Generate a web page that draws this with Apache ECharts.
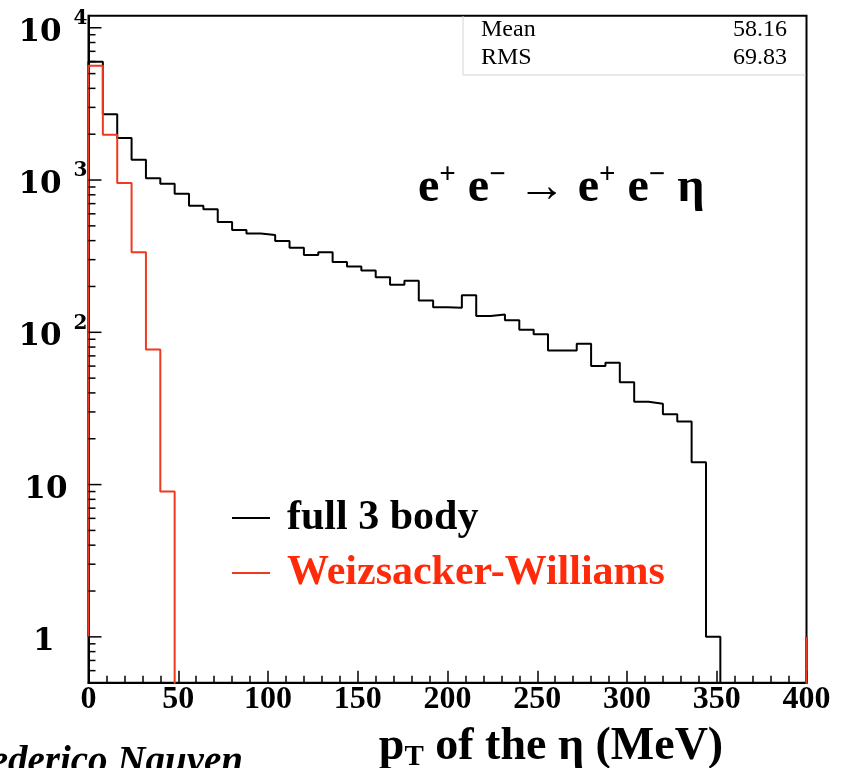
<!DOCTYPE html>
<html>
<head>
<meta charset="utf-8">
<script src="https://cdn.jsdelivr.net/npm/echarts@6/dist/echarts.min.js"></script>
<style>
html,body{margin:0;padding:0;background:#fff;}
#chart{width:848px;height:768px;}
</style>
</head>
<body>
<div id="chart"></div>
<script>
// ---------------- data ----------------
const xMin = 0, xMax = 400, binWidth = 8;
const yMin = 0.5, yMax = 12000;
const xTickStep = 50;
const seriesNames = ['full 3 body', 'Weizsacker-Williams'];
// counts per 8 MeV bin, 0..400 MeV (50 bins)
const fullBody = [5980, 2700, 1890, 1360, 1026, 946, 813, 678, 642, 530,
                  470, 445, 435, 398, 359, 322, 335, 290, 270, 255,
                  230, 205, 218, 162, 146, 145, 175, 128, 131, 120,
                  104, 97, 76, 76, 84, 60, 63, 47, 35, 34,
                  29, 26, 14, 1, 0, 0, 0, 0, 0, 0];
const weizsacker = [5630, 1980, 955, 335, 77, 9, 0, 0, 0, 0,
                    0, 0, 0, 0, 0, 0, 0, 0, 0, 0,
                    0, 0, 0, 0, 0, 0, 0, 0, 0, 0,
                    0, 0, 0, 0, 0, 0, 0, 0, 0, 0,
                    0, 0, 0, 0, 0, 0, 0, 0, 0, 0];
const yDecades = [1, 10, 100, 1000, 10000];
const statsNames = ['Mean', 'RMS'];
const statsValues = ['58.16', '69.83'];
const processText = ['e', '+', 'e', '−', 'e', '+', 'e', '−', 'η'];

// ---------------- helpers ----------------
const HIST_BASE = 1;          // ROOT log-scale histogram base
const OFF_SCALE = yMin / 10;  // empty bins fall below the frame
function histPath(vals) {
  const pts = [[xMin, HIST_BASE]];
  vals.forEach((v, i) => {
    const y = v > 0 ? v : OFF_SCALE;
    pts.push([xMin + i * binWidth, y], [xMin + (i + 1) * binWidth, y]);
  });
  pts.push([xMax, HIST_BASE]);
  return pts;
}
const yTickData = [];
for (let k = -1; k <= 4; k++) {
  for (let m = 1; m <= 9; m++) {
    const v = m * Math.pow(10, k);
    if (v > yMin && v < yMax) yTickData.push([xMin, v, m === 1 ? 13 : 7]);
  }
}

const BLACK = '#000';
const RED_LINE = '#ee3a1f';
const RED_TEXT = '#ff2a0a';
const SERIF = 'Liberation Serif';
const YFONT = 'DejaVu Serif';

const chart = echarts.init(document.getElementById('chart'), null, {renderer: 'canvas'});
chart.setOption({
  animation: false,
  backgroundColor: '#fff',
  grid: {left: 88.5, right: 41.5, top: 15.7, bottom: 85.3, show: true,
         containLabel: false, outerBoundsMode: 'none',
         borderColor: BLACK, borderWidth: 2, backgroundColor: 'transparent'},
  xAxis: {
    type: 'value', min: xMin, max: xMax, interval: xTickStep,
    axisLine: {show: true, onZero: false, lineStyle: {color: BLACK, width: 2}},
    axisTick: {show: true, inside: true, length: 12, lineStyle: {color: BLACK, width: 1.5}},
    minorTick: {show: true, splitNumber: 5, length: 7, lineStyle: {color: BLACK, width: 1.5}},
    splitLine: {show: false},
    axisLabel: {color: BLACK, fontFamily: SERIF, fontWeight: 'bold', fontSize: 32, margin: 1},
    name: '{m|p}{s|T}{m| of the η (MeV)}',
    nameLocation: 'middle', nameGap: 40,
    nameTextStyle: {
      align: 'center', verticalAlign: 'top', padding: [0, 0, 0, 207],
      rich: {
        m: {fontFamily: SERIF, fontWeight: 'bold', fontSize: 46, color: BLACK},
        s: {fontFamily: SERIF, fontWeight: 'bold', fontSize: 29, color: BLACK, padding: [20, 0, 0, 0]}
      }
    }
  },
  yAxis: {
    type: 'log', logBase: 10, min: yMin, max: yMax,
    axisLine: {show: true, lineStyle: {color: BLACK, width: 2}},
    axisTick: {show: false},
    splitLine: {show: false},
    axisLabel: {
      margin: 1,
      formatter: function (v) {
        const e = Math.log10(v);
        if (v < 1 || Math.abs(e - Math.round(e)) > 1e-6) return '';
        const k = Math.round(e);
        if (k === 0) return '{one|1}';
        if (k === 1) return '{ten|10}';
        return '{b|10}{sup|' + k + '}';
      },
      rich: {
        b: {fontFamily: YFONT, fontWeight: 'bold', fontSize: 31, color: BLACK, padding: [10, 0, 0, 0]},
        ten: {fontFamily: YFONT, fontWeight: 'bold', fontSize: 31, color: BLACK, padding: [10, 20, 0, 0]},
        one: {fontFamily: YFONT, fontWeight: 'bold', fontSize: 31, color: BLACK, padding: [10, 33, 0, 0]},
        sup: {fontFamily: YFONT, fontWeight: 'bold', fontSize: 20, color: BLACK, padding: [0, 0, 18, 12]}
      }
    }
  },
  legend: {
    show: true, orient: 'vertical', left: 232, top: 497, padding: 0,
    itemWidth: 38, itemHeight: 2, itemGap: 13,
    data: [
      {name: seriesNames[0], icon: 'rect', textStyle: {color: BLACK}},
      {name: seriesNames[1], icon: 'rect', textStyle: {color: RED_TEXT}}
    ],
    textStyle: {fontFamily: SERIF, fontWeight: 'bold', fontSize: 42, lineHeight: 42, padding: [0, 0, 0, 12]}
  },
  series: [
    {
      name: seriesNames[0], type: 'line', data: histPath(fullBody),
      symbol: 'none', showSymbol: false, clip: true, z: 3,
      lineStyle: {color: BLACK, width: 2}, itemStyle: {color: BLACK}
    },
    {
      name: seriesNames[1], type: 'line', data: histPath(weizsacker),
      symbol: 'none', showSymbol: false, clip: true, z: 4,
      lineStyle: {color: RED_LINE, width: 2}, itemStyle: {color: RED_LINE}
    },
    {
      type: 'custom', coordinateSystem: 'cartesian2d', silent: true, clip: false, z: 6,
      data: yTickData,
      encode: {x: 0, y: 1},
      renderItem: function (params, api) {
        const p = api.coord([api.value(0), api.value(1)]);
        const len = api.value(2);
        return {type: 'line', shape: {x1: p[0], y1: p[1], x2: p[0] + len, y2: p[1]},
                style: {stroke: BLACK, lineWidth: 1.5}};
      }
    }
  ],
  graphic: [
    {type: 'polyline', silent: true, z: 1,
     shape: {points: [[463, 16], [463, 75], [805.5, 75]]},
     style: {stroke: '#d4d4d4', lineWidth: 1, fill: null}},
    {type: 'text', left: 481, top: 18, silent: true,
     style: {text: statsNames[0], font: '24px "Liberation Serif"', fill: BLACK}},
    {type: 'text', left: 481, top: 46, silent: true,
     style: {text: statsNames[1], font: '24px "Liberation Serif"', fill: BLACK}},
    {type: 'text', right: 61, top: 18, silent: true,
     style: {text: statsValues[0], font: '24px "Liberation Serif"', fill: BLACK, align: 'right'}},
    {type: 'text', right: 61, top: 46, silent: true,
     style: {text: statsValues[1], font: '24px "Liberation Serif"', fill: BLACK, align: 'right'}},
    {type: 'text', x: 418, y: 189, silent: true,
     style: {
       text: '{m|' + processText[0] + '}{sp|' + processText[1] + '}{m| ' + processText[2] + '}{sp|' + processText[3] +
             '}{m| → ' + processText[4] + '}{sp|' + processText[5] + '}{m| ' + processText[6] + '}{sp|' + processText[7] +
             '}{m| ' + processText[8] + '}',
       verticalAlign: 'middle', align: 'left',
       rich: {
         m: {fontFamily: SERIF, fontWeight: 'bold', fontSize: 48, fill: BLACK},
         sp: {fontFamily: SERIF, fontWeight: 'bold', fontSize: 29, fill: BLACK, padding: [0, 0, 26, 0]}
       }
     }},
    {type: 'text', x: 243, y: 743, silent: true,
     style: {text: 'Federico Nguyen', font: 'italic bold 39px "Liberation Serif"', fill: BLACK,
             align: 'right', verticalAlign: 'top'}}
  ]
});
</script>
</body>
</html>
